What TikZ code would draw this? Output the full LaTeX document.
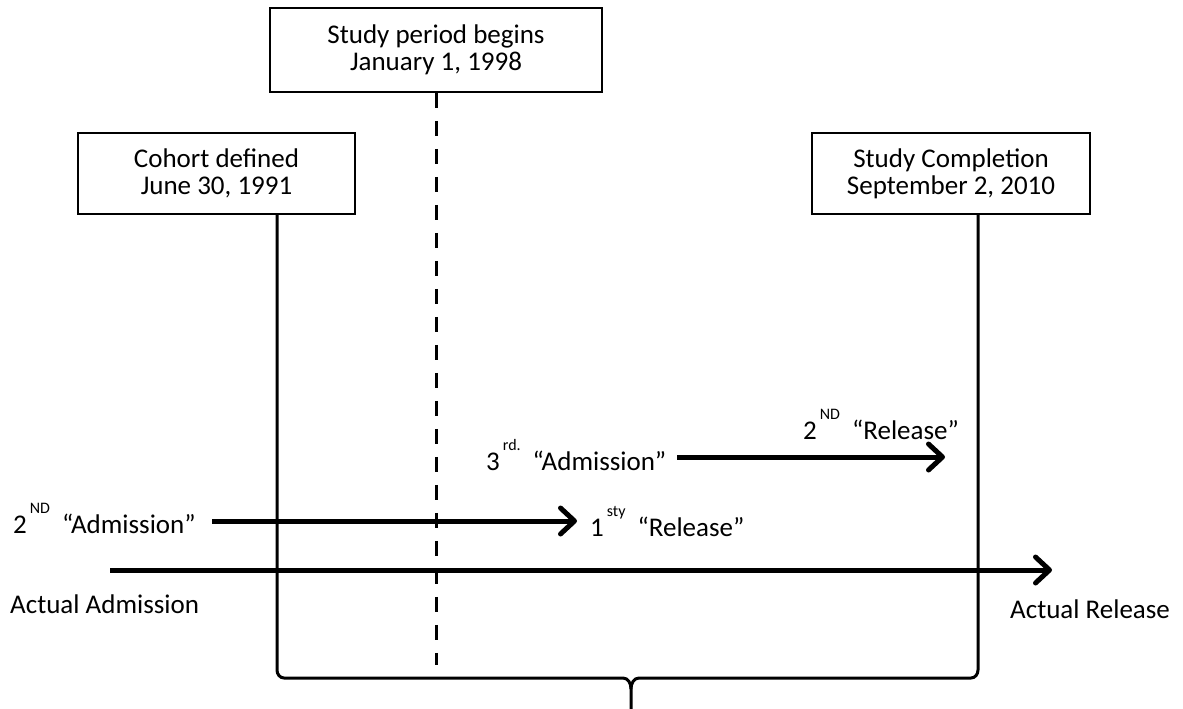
\documentclass[tikz,border=0pt]{standalone}
\usepackage{fontspec}
\setmainfont{Carlito}
\usetikzlibrary{positioning, arrows.meta, calc}

\newcommand{\ord}[2]{#1\hspace{3pt}\raisebox{20pt}{\fontsize{16}{16}\selectfont #2}\hspace{12pt}}

\tikzset{
    event/.style={draw, line width=1.5pt, align=center, inner sep=0pt,
        font=\fontsize{27}{27}\selectfont},
    lbl/.style={inner sep=0pt, font=\fontsize{27}{27}\selectfont},
    timeline/.style={line width=5pt,
        -{Straight Barb[length=14pt, width=26pt, line cap=round, line join=round]}},
    span/.style={line width=3pt},
}

\begin{document}
\begin{tikzpicture}[x=1pt, y=-1pt]
    \useasboundingbox (0,0) rectangle (1183,709);

    \node[event, minimum width=332pt, minimum height=84pt] (begin) at (436,50)
        {Study period begins\\January 1, 1998}; % start of study
    \node[event, minimum width=277pt, minimum height=81pt] (cohort) at (216.5,173.5)
        {Cohort defined\\June 30, 1991}; % cohort
    \node[event, minimum width=278pt, minimum height=81pt] (completion) at (951,173.5)
        {Study Completion\\September 2, 2010}; % end of study

    \node[lbl, anchor=base west] (adm) at (10,613) {Actual Admission}; % actual
    \node[lbl, anchor=base west] (rel) at (1010,618) {Actual Release}; % actual
    \node[lbl, anchor=base west] (adm2) at (13,533) {\ord{2}{ND}“Admission”}; % 2nd
    \node[lbl, anchor=base west] (rel1) at (590,536) {\ord{1}{sty}“Release”}; % 1st
    \node[lbl, anchor=base west] (adm3) at (486,470) {\ord{3}{rd.}“Admission”}; % 3rd
    \node[lbl, anchor=base west] (rel2) at (803,439) {\ord{2}{ND}“Release”}; % 2nd

    \coordinate (dashend) at (436,665);
    \coordinate (lcorner) at (277,670);
    \coordinate (rcorner) at (978,670);
    \coordinate (tip) at (631,709);
    \coordinate (a0) at (110,570);
    \coordinate (a1) at (1052,570);
    \coordinate (b0) at (212,521);
    \coordinate (b1) at (577,521);
    \coordinate (c0) at (677,457);
    \coordinate (c1) at (945,457);

    \draw[span, dashed, dash pattern=on 15pt off 13pt] (begin.south) -- (dashend);

    \draw[span] (cohort.south -| lcorner) -- (lcorner) to[out=-90, in=180] ++(7,8)
        -- (623,678) to[out=0, in=90] ($(tip)+(0,-20)$) -- (tip);
    \draw[span] (completion.south -| rcorner) -- (rcorner) to[out=-90, in=0] ++(-7,8)
        -- (639,678) to[out=180, in=90] ($(tip)+(0,-20)$);

    \draw[timeline] (a0) -- (a1);
    \draw[timeline] (b0) -- (b1);
    \draw[timeline] (c0) -- (c1);
\end{tikzpicture}
\end{document}
